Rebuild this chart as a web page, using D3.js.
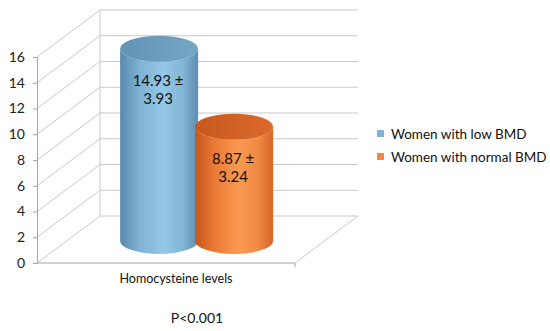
<!DOCTYPE html>
<html>
<head>
<meta charset="utf-8">
<script src="https://cdn.jsdelivr.net/npm/d3@7"></script>
<style>
  html, body { margin: 0; padding: 0; background: #fff; }
  svg { display: block; font-family: Lato, 'Open Sans', sans-serif; }
</style>
</head>
<body>
<div id="chart"></div>
<script>
// ── data ───────────────────────────────────────────────
const categories = ['Homocysteine levels'];
const seriesNames = ['Women with low BMD', 'Women with normal BMD'];
const seriesValues = [14.93, 8.87];
const seriesSD = [3.93, 3.24];
const yTicks = [0, 2, 4, 6, 8, 10, 12, 14, 16];
const footnote = 'P<0.001';

const W = 550, H = 331;
const svg = d3.select('#chart').append('svg')
  .attr('width', W).attr('height', H);

// ── scales ─────────────────────────────────────────────
const y = d3.scaleLinear().domain([0, 16]).range([263, 57]);
const x0 = d3.scaleBand().domain(categories).range([37, 295]);
const xs = d3.scaleBand().domain(seriesNames)
  .range([x0(categories[0]) + 55, x0(categories[0]) + 205]);

// depth of the 3d box
const DX = 63, DY = -47;
const barDepth = 0.47;          // bars stand a bit before mid depth

const grid = '#c9c9c9';

// ── back wall + side wall gridlines ────────────────────
const g = svg.append('g');
yTicks.forEach(t => {
  g.append('line')
    .attr('x1', 37).attr('y1', y(t))
    .attr('x2', 37 + DX).attr('y2', y(t) + DY)
    .attr('stroke', grid).attr('stroke-width', 1);
  g.append('line')
    .attr('x1', 37 + DX).attr('y1', y(t) + DY)
    .attr('x2', 295 + DX).attr('y2', y(t) + DY)
    .attr('stroke', grid).attr('stroke-width', 1);
});
// back vertical edge
g.append('line')
  .attr('x1', 37 + DX).attr('y1', y(0) + DY)
  .attr('x2', 37 + DX).attr('y2', y(16) + DY)
  .attr('stroke', grid);
// floor: right diagonal
g.append('line')
  .attr('x1', 295).attr('y1', y(0))
  .attr('x2', 295 + DX).attr('y2', y(0) + DY)
  .attr('stroke', grid);

// ── left axis ──────────────────────────────────────────
const axis = svg.append('g').attr('transform', 'translate(37,0)')
  .call(d3.axisLeft(y).tickValues(yTicks).tickSize(4).tickPadding(8));
axis.select('.domain').attr('stroke', '#a6a6a6');
axis.selectAll('.tick line').attr('stroke', '#a6a6a6');
axis.selectAll('.tick text')
  .attr('font-size', 14).attr('fill', '#222')
  .attr('font-family', 'Lato, sans-serif');

// front floor line
svg.append('line')
  .attr('x1', 37).attr('y1', y(0))
  .attr('x2', 295).attr('y2', y(0))
  .attr('stroke', '#a6a6a6');
svg.append('line')
  .attr('x1', 295).attr('y1', y(0))
  .attr('x2', 295).attr('y2', y(0) + 4)
  .attr('stroke', '#a6a6a6');

// ── gradients ──────────────────────────────────────────
const palettes = [
  { body: ['#5a8aab', '#7fb2d3', '#95c8e6', '#82b6d6', '#5d8db0'], top: ['#6293b4', '#74a6c6'] },
  { body: ['#c6561a', '#ea7a36', '#fa9a52', '#f08a44', '#d8652a'], top: ['#c8581e', '#dc6a2c'] }
];
const defs = svg.append('defs');
palettes.forEach((p, i) => {
  const lg = defs.append('linearGradient').attr('id', 'body' + i)
    .attr('x1', '0%').attr('x2', '100%').attr('y1', '0%').attr('y2', '0%');
  [0, 0.25, 0.55, 0.8, 1].forEach((o, k) =>
    lg.append('stop').attr('offset', o).attr('stop-color', p.body[k]));
  const tg = defs.append('linearGradient').attr('id', 'top' + i)
    .attr('x1', '0%').attr('x2', '100%').attr('y1', '0%').attr('y2', '0%');
  tg.append('stop').attr('offset', 0).attr('stop-color', p.top[0]);
  tg.append('stop').attr('offset', 1).attr('stop-color', p.top[1]);
});

// ── cylinders ──────────────────────────────────────────
const ry = 13;
const bw = 78;
seriesNames.forEach((s, i) => {
  const cx = xs(s) + xs.bandwidth() / 2 + DX * barDepth;
  const yTop = y(seriesValues[i]) + DY * barDepth;
  const yBot = y(0) + DY * barDepth;
  const rx = bw / 2;
  const path = `M${cx - rx},${yTop} L${cx - rx},${yBot} ` +
    `A${rx},${ry} 0 0 0 ${cx + rx},${yBot} L${cx + rx},${yTop} ` +
    `A${rx},${ry} 0 0 1 ${cx - rx},${yTop} Z`;
  svg.append('path').attr('d', path).attr('fill', `url(#body${i})`);
  svg.append('ellipse')
    .attr('cx', cx).attr('cy', yTop).attr('rx', rx).attr('ry', ry)
    .attr('fill', `url(#top${i})`);

  // value label
  const lab = svg.append('text')
    .attr('text-anchor', 'middle')
    .attr('font-size', 15).attr('fill', '#111');
  const ly = y(seriesValues[i]) + 15;
  lab.append('tspan').attr('x', cx - 1).attr('y', ly)
    .text(seriesValues[i].toFixed(2) + ' ±');
  lab.append('tspan').attr('x', cx - 1).attr('y', ly + 18)
    .text(seriesSD[i].toFixed(2));
});

// ── category label + footnote ──────────────────────────
svg.append('text')
  .attr('x', x0(categories[0]) + x0.bandwidth() / 2 + 10).attr('y', 283)
  .attr('text-anchor', 'middle').attr('font-size', 12.5).attr('fill', '#111')
  .text(categories[0]);
svg.append('text')
  .attr('x', 197).attr('y', 323)
  .attr('text-anchor', 'middle').attr('font-size', 14).attr('fill', '#111')
  .text(footnote);

// ── legend ─────────────────────────────────────────────
const legendColors = ['#7fb3d5', '#f58840'];
const lg = svg.append('g').attr('transform', 'translate(377,134)');
seriesNames.forEach((s, i) => {
  const row = lg.append('g').attr('transform', `translate(0,${i * 23})`);
  row.append('rect').attr('x', 0).attr('y', -4).attr('width', 7).attr('height', 7)
    .attr('fill', legendColors[i]);
  row.append('text').attr('x', 14).attr('y', 5)
    .attr('font-size', 13.5).attr('fill', '#111').text(s);
});
</script>
</body>
</html>
